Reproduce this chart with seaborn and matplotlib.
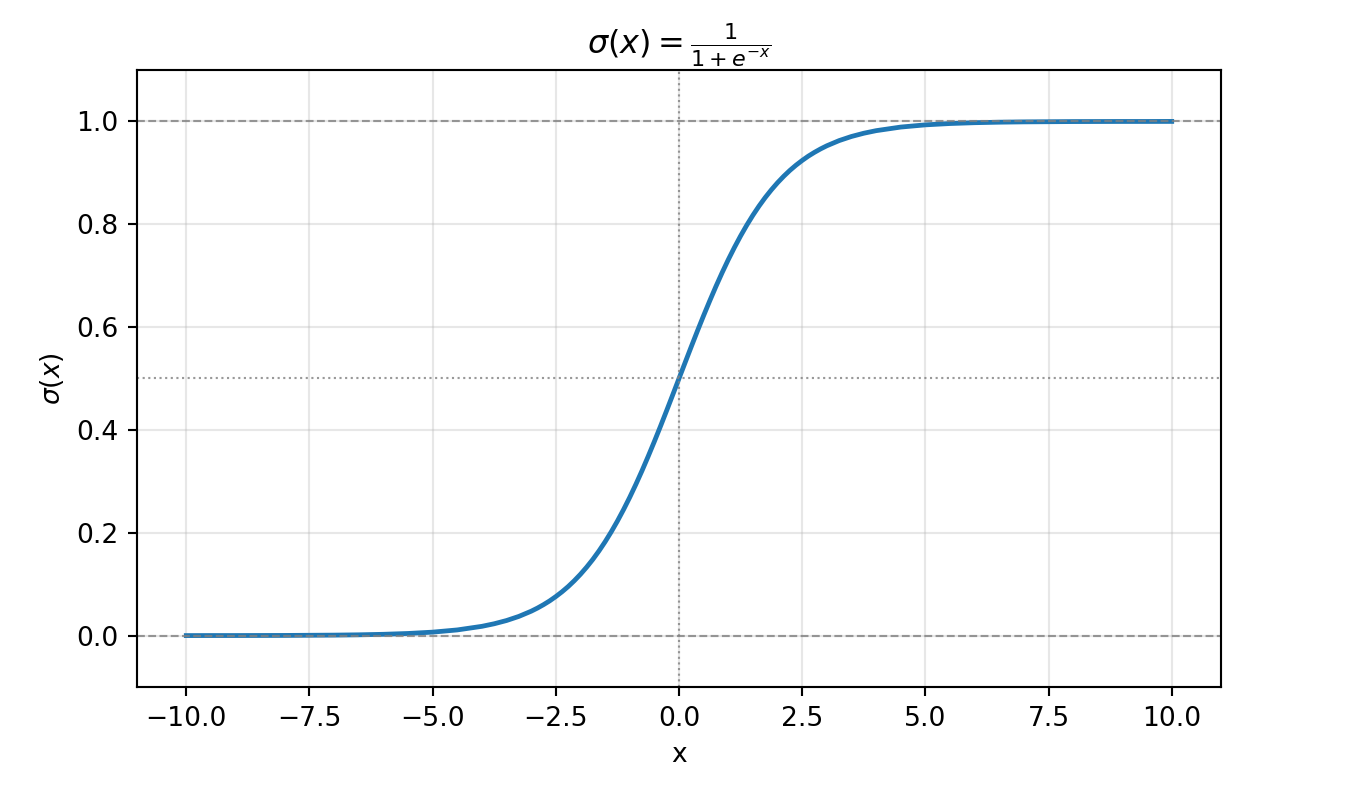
import matplotlib
matplotlib.use("Agg")
import matplotlib.pyplot as plt
import seaborn as sns
import pandas as pd

x_vals = [-10.0, -9.5, -9.0, -8.5, -8.0, -7.5, -7.0, -6.5, -6.0, -5.5, -5.0, -4.5,
          -4.0, -3.75, -3.5, -3.25, -3.0,
          -2.875, -2.75, -2.625, -2.5, -2.375, -2.25, -2.125, -2.0,
          -1.875, -1.75, -1.625, -1.5, -1.375, -1.25, -1.125, -1.0,
          -0.875, -0.75, -0.625, -0.5, -0.375, -0.25, -0.125, 0.0,
          0.125, 0.25, 0.375, 0.5, 0.625, 0.75, 0.875, 1.0,
          1.125, 1.25, 1.375, 1.5, 1.625, 1.75, 1.875, 2.0,
          2.125, 2.25, 2.375, 2.5, 2.625, 2.75, 2.875, 3.0,
          3.25, 3.5, 3.75, 4.0,
          4.5, 5.0, 5.5, 6.0, 6.5, 7.0, 7.5, 8.0, 8.5, 9.0, 9.5, 10.0]
sigma_vals = [0.0000, 0.0001, 0.0001, 0.0002, 0.0003, 0.0006, 0.0009, 0.0015, 0.0025, 0.0041, 0.0067, 0.0110,
              0.0180, 0.0230, 0.0293, 0.0373, 0.0474,
              0.0534, 0.0601, 0.0675, 0.0759, 0.0851, 0.0953, 0.1067, 0.1192,
              0.1330, 0.1480, 0.1645, 0.1824, 0.2018, 0.2227, 0.2451, 0.2689,
              0.2942, 0.3208, 0.3487, 0.3775, 0.4073, 0.4378, 0.4688, 0.5000,
              0.5312, 0.5622, 0.5927, 0.6225, 0.6513, 0.6792, 0.7058, 0.7311,
              0.7549, 0.7773, 0.7982, 0.8176, 0.8355, 0.8520, 0.8670, 0.8808,
              0.8933, 0.9047, 0.9149, 0.9241, 0.9325, 0.9399, 0.9466, 0.9526,
              0.9627, 0.9707, 0.9770, 0.9820,
              0.9890, 0.9933, 0.9959, 0.9975, 0.9985, 0.9991, 0.9994, 0.9997, 0.9998, 0.9999, 0.9999, 1.0000]

df = pd.DataFrame({"x": x_vals, "sigma": sigma_vals})

DPI = 191
fig = plt.figure(figsize=(1346 / DPI, 802 / DPI), dpi=DPI)
ax = fig.add_axes([137 / 1346, 1 - 687 / 802, (1221 - 137) / 1346, (687 - 70) / 802])

sns.lineplot(data=df, x="x", y="sigma", ax=ax, color="#1f77b4", linewidth=1.8)

ax.axhline(0, color="gray", linestyle="--", linewidth=0.8, alpha=0.8)
ax.axhline(1, color="gray", linestyle="--", linewidth=0.8, alpha=0.8)
ax.axhline(0.5, color="gray", linestyle=":", linewidth=0.8, alpha=0.8)
ax.axvline(0, color="gray", linestyle=":", linewidth=0.8, alpha=0.8)

ax.set_xlim(-11, 11)
ax.set_ylim(-0.1, 1.1)
ax.grid(True, alpha=0.3)
ax.set_xlabel("x")
ax.set_ylabel(r"$\sigma(x)$")
ax.set_title(r"$\sigma(x) = \frac{1}{1 + e^{-x}}$")

fig.savefig("out.png", dpi=DPI)
